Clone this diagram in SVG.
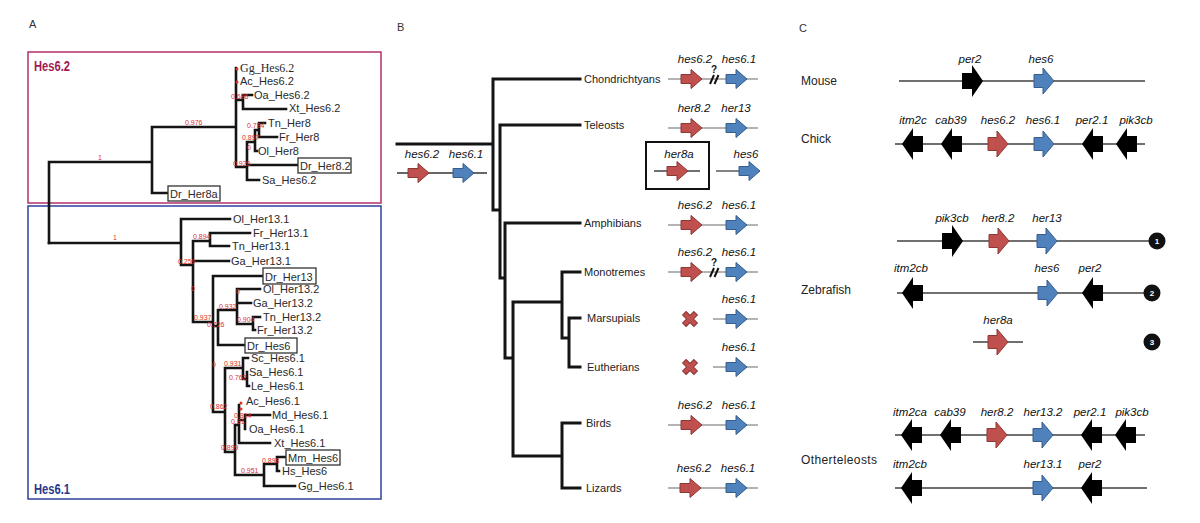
<svg xmlns="http://www.w3.org/2000/svg" width="1200" height="523" viewBox="0 0 1200 523">
<style>
text{font-family:"Liberation Sans",Arial,sans-serif}
.pl{font-size:11px;fill:#333}
.lf{font-size:11px;fill:#2a2a2a}
.sf{font-family:"Liberation Serif","Times New Roman",serif;font-size:12px;fill:#2a2a2a}
.bs{font-size:7px;fill:#e0302a}
.tr{fill:none;stroke:#141414;stroke-width:2.6;stroke-linecap:square}
.tb{fill:none;stroke:#141414;stroke-width:3;stroke-linecap:square}
.bx{fill:#fff;stroke:#333;stroke-width:1.3}
.sp{font-size:11px;fill:#222}
.gn{font-size:11.5px;font-style:italic;fill:#111;text-anchor:middle}
.org{font-size:12px;fill:#222}
.lnB{stroke:#9a9a9a;stroke-width:1.3}
.lnC{stroke:#404040;stroke-width:1.3}
.red{fill:#c0504d;stroke:#8c3836;stroke-width:1}
.blue{fill:#4f81bd;stroke:#385d8a;stroke-width:1}
.blk{fill:#000}
.num{font-size:8px;font-weight:bold;fill:#fff;text-anchor:middle}
</style>
<defs>
<path id="gB" d="M0,-4.5H10V-9.5L21,0L10,9.5V4.5H0Z"/>
<path id="gC" d="M0,-6.5H9V-13L20,0L9,13V6.5H0Z"/>
<path id="kL" d="M0,0L11,-16V-8H21V8H11V16Z"/>
<path id="kR" d="M21,0L10,-16V-8H0V8H10V16Z"/>
<path id="xm" d="M-2.5,-8H2.5V-2.5H8V2.5H2.5V8H-2.5V2.5H-8V-2.5H-2.5Z" transform="rotate(45)"/>
</defs>
<rect width="1200" height="523" fill="#fff"/>

<!-- Panel A -->
<g id="panelA">
<text class="pl" x="29" y="28">A</text>
<g id="box-hes62">
<rect x="28" y="52" width="353" height="151" fill="none" stroke="#b0306a" stroke-width="1.5"/>
<text x="34" y="71" font-size="14" font-weight="bold" fill="#a01a55" textLength="36" lengthAdjust="spacingAndGlyphs">Hes6.2</text>
</g>
<g id="box-hes61">
<rect x="28" y="206" width="353" height="293" fill="none" stroke="#2f3f9f" stroke-width="1.5"/>
<text x="34" y="494" font-size="14" font-weight="bold" fill="#27388a" textLength="36" lengthAdjust="spacingAndGlyphs">Hes6.1</text>
</g>
</g>

<g id="connectors">
<path class="tr" d="M49,162V243M49,162H152M152,127V193M152,127H236M152,193H168M236,68V167M236,100H243M243,95V109M243,95H252M243,109H286M236,167H247M247,142V180M247,165H298M247,180H259M247,142H255M255,130V151M255,151H257M255,130H259M259,123V137M259,123H265M259,137H277"/>
<path class="tr" d="M49,243H181M181,219V265M181,219H230M181,265H193M193,241V322M193,241H210M210,233V246M210,233H250M210,246H229M193,261H229M193,322H213M213,276V412M213,276H263M213,326H218M218,310V345M218,345H245M218,310H237M237,289V324M237,289H260M237,303H251M237,324H253M253,317V330M253,317H260M253,330H255M213,412H225M225,368V452M225,368H243M243,358V379M243,358H248M243,379H247M247,372V386M247,386H249M225,452H235M235,425V475M235,425H239M239,405V443M239,420H245M245,415V429M245,415H270M239,443H270M235,475H264M264,464V486M264,486H295M264,464H277M277,457V471M277,457H286M277,471H279"/>
<path class="tb" d="M397,144H493M493,79V210M493,79H580M493,210H500M500,125V278M500,125H580M500,278H505M505,223V358M505,223H580M505,358H513M513,302V456M513,302H562M562,272V338M562,272H580M562,338H569M569,318V367M569,318H580M569,367H580M513,456H562M562,423V488M562,423H580M562,488H580"/>
</g>

<g id="bootstrap">
<circle cx="237" cy="69" r="1.5" fill="#e0302a"/>
<circle cx="237" cy="82" r="1.5" fill="#e0302a"/>
<circle cx="241" cy="403" r="1.5" fill="#e0302a"/>
<circle cx="241" cy="409" r="1.5" fill="#e0302a"/>
<text class="bs" x="98" y="160">1</text>
<text class="bs" x="185" y="125">0.976</text>
<text class="bs" x="231" y="99">0.686</text>
<text class="bs" x="247" y="128">0.784</text>
<text class="bs" x="242" y="140">0.897</text>
<text class="bs" x="247" y="150">0</text>
<text class="bs" x="233" y="166">0.929</text>
<text class="bs" x="113" y="240">1</text>
<text class="bs" x="193" y="239">0.894</text>
<text class="bs" x="178" y="264">0.259</text>
<text class="bs" x="191" y="291">0</text>
<text class="bs" x="236" y="294">0</text>
<text class="bs" x="219" y="309">0.932</text>
<text class="bs" x="194" y="320">0.937</text>
<text class="bs" x="237" y="322">0.904</text>
<text class="bs" x="207" y="327">0.726</text>
<text class="bs" x="212" y="367">0</text>
<text class="bs" x="224" y="366">0.931</text>
<text class="bs" x="229" y="380">0.762</text>
<text class="bs" x="210" y="409">0.862</text>
<text class="bs" x="234" y="418">0.814</text>
<text class="bs" x="231" y="424">0.91</text>
<text class="bs" x="221" y="450">0.899</text>
<text class="bs" x="262" y="463">0.898</text>
<text class="bs" x="241" y="473">0.951</text>
</g>

<g id="leaves-hes62">
<text class="sf" x="240" y="72">Gg_Hes6.2</text>
<text class="lf" x="240" y="85">Ac_Hes6.2</text>
<text class="lf" x="254" y="99">Oa_Hes6.2</text>
<text class="lf" x="289" y="112">Xt_Hes6.2</text>
<text class="lf" x="268" y="127">Tn_Her8</text>
<text class="lf" x="279" y="141">Fr_Her8</text>
<text class="lf" x="258" y="155">Ol_Her8</text>
<g id="leaf-dr-her82"><rect class="bx" x="298" y="158" width="53" height="15"/><text class="lf" x="300" y="169.5">Dr_Her8.2</text></g>
<text class="lf" x="262" y="184">Sa_Hes6.2</text>
<g id="leaf-dr-her8a"><rect class="bx" x="168" y="186" width="52" height="15"/><text class="lf" x="170" y="197.5">Dr_Her8a</text></g>
</g>

<g id="leaves-hes61">
<text class="lf" x="233" y="223">Ol_Her13.1</text>
<text class="lf" x="253" y="237">Fr_Her13.1</text>
<text class="lf" x="232" y="250">Tn_Her13.1</text>
<text class="lf" x="231" y="265">Ga_Her13.1</text>
<g id="leaf-dr-her13"><rect class="bx" x="263" y="268" width="53" height="16"/><text class="lf" x="265" y="280.5">Dr_Her13</text></g>
<text class="lf" x="263" y="293">Ol_Her13.2</text>
<text class="lf" x="253" y="307">Ga_Her13.2</text>
<text class="lf" x="263" y="321">Tn_Her13.2</text>
<text class="lf" x="257" y="334">Fr_Her13.2</text>
<g id="leaf-dr-hes6"><rect class="bx" x="245" y="338" width="52" height="15"/><text class="lf" x="247" y="349.5">Dr_Hes6</text></g>
<text class="lf" x="251" y="362">Sc_Hes6.1</text>
<text class="lf" x="249" y="376">Sa_Hes6.1</text>
<text class="lf" x="251" y="390">Le_Hes6.1</text>
<text class="lf" x="246" y="405">Ac_Hes6.1</text>
<text class="lf" x="272" y="419">Md_Hes6.1</text>
<text class="lf" x="249" y="433">Oa_Hes6.1</text>
<text class="lf" x="274" y="447">Xt_Hes6.1</text>
<g id="leaf-mm-hes6"><rect class="bx" x="286" y="450" width="54" height="15"/><text class="lf" x="288" y="461.5">Mm_Hes6</text></g>
<text class="lf" x="282" y="475">Hs_Hes6</text>
<text class="lf" x="298" y="490">Gg_Hes6.1</text>
</g>

<!-- Panel B -->
<g id="panelB">
<text class="pl" x="397" y="31">B</text>
<g id="ancestor">
<line class="lnC" x1="397" y1="173" x2="487" y2="173" style="stroke:#333"/>
<use href="#gB" class="red" x="408" y="173"/>
<use href="#gB" class="blue" x="453" y="173"/>
<text class="gn" x="422" y="158">hes6.2</text>
<text class="gn" x="466" y="158">hes6.1</text>
</g>
<g id="sp-chondrichtyans">
<text class="sp" x="584" y="83">Chondrichtyans</text>
<line class="lnB" x1="668" y1="79" x2="758" y2="79"/>
<use href="#gB" class="red" x="681" y="79"/>
<use href="#gB" class="blue" x="726" y="79"/>
<path d="M710,84L714,75M714.5,84L718.5,75" stroke="#111" stroke-width="2"/>
<text x="714" y="73" font-size="10" font-weight="bold" fill="#111" text-anchor="middle">?</text>
<text class="gn" x="695" y="63">hes6.2</text>
<text class="gn" x="739" y="63">hes6.1</text>
</g>
<g id="sp-teleosts">
<text class="sp" x="584" y="129">Teleosts</text>
<line class="lnB" x1="668" y1="128" x2="758" y2="128"/>
<use href="#gB" class="red" x="681" y="128"/>
<use href="#gB" class="blue" x="726" y="128"/>
<text class="gn" x="694" y="112">her8.2</text>
<text class="gn" x="736" y="112">her13</text>
</g>
<g id="sp-zebrafish-box">
<rect x="646" y="142" width="63" height="47" fill="none" stroke="#111" stroke-width="2"/>
<line class="lnC" x1="654" y1="171" x2="700" y2="171"/>
<use href="#gB" class="red" x="667" y="171"/>
<text class="gn" x="679" y="158">her8a</text>
<line class="lnC" x1="716" y1="171" x2="742" y2="171"/>
<use href="#gB" class="blue" x="739" y="171"/>
<text class="gn" x="746" y="158">hes6</text>
</g>
<g id="sp-amphibians">
<text class="sp" x="584" y="227">Amphibians</text>
<line class="lnB" x1="668" y1="225" x2="758" y2="225"/>
<use href="#gB" class="red" x="681" y="225"/>
<use href="#gB" class="blue" x="726" y="225"/>
<text class="gn" x="695" y="209">hes6.2</text>
<text class="gn" x="739" y="209">hes6.1</text>
</g>
<g id="sp-monotremes">
<text class="sp" x="584" y="276">Monotremes</text>
<line class="lnB" x1="668" y1="272" x2="758" y2="272"/>
<use href="#gB" class="red" x="681" y="272"/>
<use href="#gB" class="blue" x="726" y="272"/>
<path d="M710,277L714,268M714.5,277L718.5,268" stroke="#111" stroke-width="2"/>
<text x="714" y="266" font-size="10" font-weight="bold" fill="#111" text-anchor="middle">?</text>
<text class="gn" x="695" y="256">hes6.2</text>
<text class="gn" x="739" y="256">hes6.1</text>
</g>
<g id="sp-marsupials">
<text class="sp" x="587" y="322">Marsupials</text>
<use href="#xm" class="red" transform="translate(690,319)"/>
<line class="lnB" x1="713" y1="319" x2="758" y2="319"/>
<use href="#gB" class="blue" x="726" y="319"/>
<text class="gn" x="739" y="303">hes6.1</text>
</g>
<g id="sp-eutherians">
<text class="sp" x="587" y="371">Eutherians</text>
<use href="#xm" class="red" transform="translate(690,367)"/>
<line class="lnB" x1="713" y1="367" x2="758" y2="367"/>
<use href="#gB" class="blue" x="726" y="367"/>
<text class="gn" x="739" y="351">hes6.1</text>
</g>
<g id="sp-birds">
<text class="sp" x="586" y="427">Birds</text>
<line class="lnB" x1="668" y1="425" x2="758" y2="425"/>
<use href="#gB" class="red" x="681" y="425"/>
<use href="#gB" class="blue" x="726" y="425"/>
<text class="gn" x="695" y="409">hes6.2</text>
<text class="gn" x="739" y="409">hes6.1</text>
</g>
<g id="sp-lizards">
<text class="sp" x="586" y="492">Lizards</text>
<line class="lnB" x1="668" y1="488" x2="758" y2="488"/>
<use href="#gB" class="red" x="680" y="488"/>
<use href="#gB" class="blue" x="726" y="488"/>
<text class="gn" x="694" y="472">hes6.2</text>
<text class="gn" x="738" y="472">hes6.1</text>
</g>
</g>

<!-- Panel C -->
<g id="panelC">
<text class="pl" x="799" y="32">C</text>
<g id="row-mouse">
<text class="org" x="801" y="85">Mouse</text>
<line class="lnC" x1="899" y1="81" x2="1145" y2="81"/>
<use href="#kR" class="blk" x="962" y="81"/>
<use href="#gC" class="blue" x="1034" y="81"/>
<text class="gn" x="970" y="63">per2</text>
<text class="gn" x="1041" y="63">hes6</text>
</g>
<g id="row-chick">
<text class="org" x="801" y="143">Chick</text>
<line class="lnC" x1="895" y1="144" x2="1145" y2="144"/>
<use href="#kL" class="blk" x="902" y="144"/>
<use href="#kL" class="blk" x="941" y="144"/>
<use href="#gC" class="red" x="988" y="144"/>
<use href="#gC" class="blue" x="1034" y="144"/>
<use href="#kL" class="blk" x="1082" y="144"/>
<use href="#kL" class="blk" x="1116" y="144"/>
<text class="gn" x="913" y="124">itm2c</text>
<text class="gn" x="951" y="124">cab39</text>
<text class="gn" x="998" y="124">hes6.2</text>
<text class="gn" x="1043" y="124">hes6.1</text>
<text class="gn" x="1092" y="124">per2.1</text>
<text class="gn" x="1136" y="124">pik3cb</text>
</g>
<g id="row-zebrafish-1">
<line class="lnC" x1="897" y1="241" x2="1152" y2="241"/>
<use href="#kR" class="blk" x="942" y="241"/>
<use href="#gC" class="red" x="989" y="241"/>
<use href="#gC" class="blue" x="1037" y="241"/>
<circle cx="1157" cy="241" r="8.5" fill="#111"/>
<text class="num" x="1157" y="244">1</text>
<text class="gn" x="952" y="222">pik3cb</text>
<text class="gn" x="998" y="222">her8.2</text>
<text class="gn" x="1047" y="222">her13</text>
</g>
<g id="row-zebrafish-2">
<text class="org" x="801" y="294">Zebrafish</text>
<line class="lnC" x1="897" y1="293" x2="1148" y2="293"/>
<use href="#kL" class="blk" x="902" y="293"/>
<use href="#gC" class="blue" x="1038" y="293"/>
<use href="#kL" class="blk" x="1082" y="293"/>
<circle cx="1152" cy="293" r="8.5" fill="#111"/>
<text class="num" x="1152" y="296">2</text>
<text class="gn" x="911" y="272">itm2cb</text>
<text class="gn" x="1047" y="272">hes6</text>
<text class="gn" x="1090" y="272">per2</text>
</g>
<g id="row-zebrafish-3">
<line class="lnC" x1="973" y1="342" x2="1023" y2="342"/>
<use href="#gC" class="red" x="988" y="342"/>
<circle cx="1152" cy="342" r="8.5" fill="#111"/>
<text class="num" x="1152" y="345">3</text>
<text class="gn" x="998" y="324">her8a</text>
</g>
<g id="row-teleosts-1">
<line class="lnC" x1="895" y1="435" x2="1145" y2="435"/>
<use href="#kL" class="blk" x="901" y="435"/>
<use href="#kL" class="blk" x="940" y="435"/>
<use href="#gC" class="red" x="987" y="435"/>
<use href="#gC" class="blue" x="1033" y="435"/>
<use href="#kL" class="blk" x="1081" y="435"/>
<use href="#kL" class="blk" x="1115" y="435"/>
<text class="gn" x="910" y="416">itm2ca</text>
<text class="gn" x="950" y="416">cab39</text>
<text class="gn" x="997" y="416">her8.2</text>
<text class="gn" x="1043" y="416">her13.2</text>
<text class="gn" x="1090" y="416">per2.1</text>
<text class="gn" x="1132" y="416">pik3cb</text>
</g>
<g id="row-teleosts-2">
<text class="org" x="801" y="464" textLength="76" lengthAdjust="spacing">Otherteleosts</text>
<line class="lnC" x1="895" y1="488" x2="1147" y2="488"/>
<use href="#kL" class="blk" x="901" y="488"/>
<use href="#gC" class="blue" x="1033" y="488"/>
<use href="#kL" class="blk" x="1081" y="488"/>
<text class="gn" x="910" y="468">itm2cb</text>
<text class="gn" x="1043" y="468">her13.1</text>
<text class="gn" x="1090" y="468">per2</text>
</g>
</g>
</svg>
